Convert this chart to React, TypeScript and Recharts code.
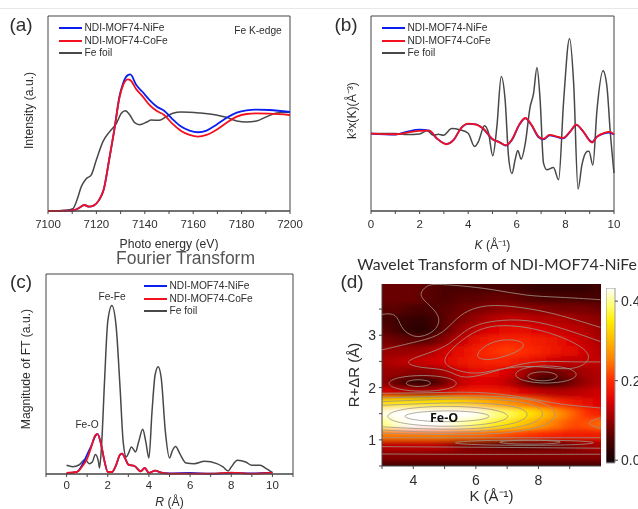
// App.tsx - four panel XAS figure (XANES, EXAFS, FT, wavelet map)
import React from "react";
import {
  LineChart,
  Line,
  ScatterChart,
  Scatter,
  XAxis,
  YAxis,
  Legend,
  ReferenceArea,
} from "recharts";

const SANS = "'Liberation Sans', Arial, sans-serif";
const INK = "#2e2e2e";
const AXIS = "#454545";
const BLUE = "#0b1ff0";
const RED = "#f2121f";
const GREY = "#484848";

// (a) XANES
const energyEdge = [7100, 7108, 7111, 7113, 7115, 7117, 7119, 7121, 7123, 7125.5, 7127.5, 7129.5, 7131, 7133, 7134, 7136.5, 7139, 7142, 7145, 7148, 7151.5, 7155, 7158.5, 7162, 7165.5, 7169.5, 7173.5, 7178, 7182, 7186, 7191.5, 7200];
const xanesNiFe = [0, 1, 3, 10, 18, 13, 17, 32, 64, 164, 249, 344, 384, 409, 411, 379, 359, 334, 314, 302, 276, 254, 242, 237, 242, 259, 279, 296, 303, 305, 304, 298];
const xanesCoFe = [0, 1, 3, 10, 18, 13, 17, 32, 64, 164, 249, 340, 378, 396, 394, 366, 346, 319, 301, 289, 262, 241, 229, 224, 229, 244, 264, 284, 292, 294, 293, 289];
const energyFoil = [7100, 7107.6, 7110.3, 7112, 7113.8, 7115.8, 7117.9, 7120, 7122.7, 7125.5, 7128.3, 7130.3, 7132, 7133.8, 7135.8, 7137.9, 7140.6, 7142.7, 7146, 7148.9, 7151.6, 7155, 7162.6, 7169.5, 7173.7, 7178, 7182, 7186.2, 7190.4, 7194.5, 7200];
const xanesFoil = [0, 2, 7, 34, 74, 97, 109, 154, 209, 239, 264, 294, 302, 289, 266, 260, 267, 274, 273, 284, 294, 298, 295, 289, 282, 271, 268, 271, 284, 295, 297];
const energyTicks = [7100, 7110, 7120, 7130, 7140, 7150, 7160, 7170, 7180, 7190, 7200];
const energyLabels = [7100, 7120, 7140, 7160, 7180, 7200];

// (b) EXAFS
const kSample = [0, 1, 1.5, 2, 2.4, 2.7, 3.1, 3.4, 3.7, 4, 4.3, 4.6, 5, 5.3, 5.55, 5.8, 6.1, 6.35, 6.6, 6.9, 7.1, 7.35, 7.6, 7.9, 8.2, 8.45, 8.7, 9.1, 9.3, 9.6, 9.8, 10];
const exafsNiFe = [0, -3, 6, 12, 9, -14, -31, -19, 16, 29, 28, 16, -17, -26, -36, -19, 26, 46, 26, -11, -17, -5, -9, -14, 6, 26, 9, -25, -9, 1, 3, -3];
const exafsCoFe = [0, -2, 3, 8, 9, -14, -32, -19, 16, 30, 28, 16, -16, -27, -35, -18, 27, 47, 27, -9, -16, -4, -8, -13, 7, 27, 10, -27, -10, 2, 5, -2];
const kFoil = [0, 0.5, 1, 1.5, 2, 2.3, 2.57, 2.77, 2.98, 3.32, 3.67, 4, 4.26, 4.42, 4.67, 4.84, 5.01, 5.18, 5.36, 5.52, 5.66, 5.8, 5.93, 6.04, 6.18, 6.35, 6.55, 6.69, 6.83, 6.96, 7.1, 7.24, 7.51, 7.72, 7.93, 8.17, 8.34, 8.52, 8.68, 8.89, 8.97, 9.13, 9.3, 9.55, 9.71, 9.85, 10];
const exafsFoil = [0, 0, 0, -3, -1, 9, -5, -2, -5, 15, 11, 1, -39, -24, 24, 1, -67, 21, 172, 101, -69, -120, -79, -51, -77, -29, 81, 121, 199, 101, -89, -109, -102, -139, 101, 286, 151, -167, -94, -54, -53, -95, 71, 189, 141, 1, -119];
const kTicks = [0, 1, 2, 3, 4, 5, 6, 7, 8, 9, 10];
const kLabels = [0, 2, 4, 6, 8, 10];

// (c) Fourier transform
const rSample = [0, 0.5, 0.8, 1, 1.2, 1.4, 1.5, 1.65, 1.85, 2, 2.2, 2.4, 2.6, 2.7, 2.85, 3, 3.3, 3.6, 3.8, 4, 4.3, 4.6, 5, 6, 7, 8, 9, 10];
const ftNiFe = [2, 6, 32, 58, 84, 114, 120, 96, 36, 6, 6, 26, 58, 61, 46, 28, 24, 8, 18, 3, 10, 4, 2, 3, 1, 3, 2, 4];
const ftCoFe = [3, 6, 26, 46, 81, 116, 119, 96, 36, 6, 6, 26, 58, 61, 46, 28, 24, 8, 18, 3, 10, 4, 1, 1, 1, 4, 1, 4];
const rFoil = [0, 0.3, 0.6, 0.9, 1.1, 1.25, 1.4, 1.55, 1.6, 1.7, 1.85, 2, 2.2, 2.4, 2.6, 2.75, 2.9, 3, 3.15, 3.35, 3.5, 3.7, 3.85, 4, 4.15, 4.3, 4.45, 4.6, 4.8, 5, 5.15, 5.3, 5.5, 5.8, 6.2, 6.7, 7.3, 7.6, 7.85, 8, 8.3, 8.7, 9, 9.4, 9.7, 10];
const ftFoil = [26, 22, 27, 43, 31, 36, 58, 36, 18, 86, 286, 456, 504, 446, 256, 96, 51, 61, 81, 66, 96, 134, 96, 48, 186, 296, 321, 286, 126, 48, 71, 82, 61, 33, 31, 38, 31, 21, 9, 21, 41, 36, 26, 26, 16, 4];
const rTicks = [-1, 0, 1, 2, 3, 4, 5, 6, 7, 8, 9, 10, 11];
const rLabels = [0, 2, 4, 6, 8, 10];

// (d) wavelet magnitude, top row first
const waveK = [3, 3.5, 4, 4.5, 5, 5.5, 6, 6.5, 7, 7.5, 8, 8.5, 9, 9.5, 10];
const waveR = [3.9, 3.7, 3.5, 3.3, 3.1, 2.9, 2.7, 2.5, 2.3, 2.1, 1.9, 1.7, 1.5, 1.3, 1.1, 0.9, 0.7, 0.5];
const waveMagnitude = [
  [0.07, 0.07, 0.07, 0.06, 0.05, 0.05, 0.05, 0.05, 0.05, 0.04, 0.03, 0.03, 0.03, 0.03, 0.04],
  [0.07, 0.07, 0.07, 0.06, 0.05, 0.06, 0.06, 0.07, 0.07, 0.06, 0.05, 0.05, 0.05, 0.05, 0.05],
  [0.06, 0.06, 0.05, 0.05, 0.06, 0.07, 0.08, 0.09, 0.1, 0.09, 0.09, 0.08, 0.08, 0.08, 0.07],
  [0.05, 0.04, 0.03, 0.03, 0.06, 0.08, 0.1, 0.12, 0.13, 0.13, 0.12, 0.12, 0.11, 0.1, 0.09],
  [0.06, 0.04, 0.02, 0.02, 0.06, 0.1, 0.13, 0.15, 0.16, 0.16, 0.15, 0.14, 0.13, 0.12, 0.1],
  [0.08, 0.07, 0.06, 0.06, 0.09, 0.13, 0.16, 0.18, 0.19, 0.19, 0.18, 0.17, 0.15, 0.13, 0.11],
  [0.1, 0.1, 0.1, 0.11, 0.14, 0.16, 0.18, 0.2, 0.21, 0.2, 0.19, 0.17, 0.16, 0.14, 0.12],
  [0.11, 0.12, 0.13, 0.14, 0.15, 0.17, 0.18, 0.19, 0.19, 0.17, 0.16, 0.14, 0.13, 0.13, 0.13],
  [0.1, 0.1, 0.09, 0.09, 0.11, 0.14, 0.16, 0.16, 0.15, 0.11, 0.07, 0.07, 0.09, 0.11, 0.12],
  [0.1, 0.06, 0.03, 0.03, 0.07, 0.13, 0.15, 0.15, 0.13, 0.08, 0.03, 0.03, 0.07, 0.1, 0.12],
  [0.15, 0.13, 0.12, 0.12, 0.14, 0.17, 0.18, 0.18, 0.17, 0.15, 0.13, 0.12, 0.12, 0.13, 0.14],
  [0.33, 0.34, 0.34, 0.34, 0.34, 0.33, 0.31, 0.29, 0.27, 0.25, 0.23, 0.2, 0.18, 0.16, 0.15],
  [0.42, 0.45, 0.47, 0.47, 0.46, 0.45, 0.43, 0.4, 0.38, 0.35, 0.32, 0.28, 0.24, 0.2, 0.18],
  [0.39, 0.42, 0.44, 0.44, 0.43, 0.41, 0.39, 0.36, 0.34, 0.31, 0.28, 0.25, 0.22, 0.22, 0.24],
  [0.25, 0.25, 0.25, 0.25, 0.25, 0.24, 0.24, 0.23, 0.22, 0.21, 0.2, 0.19, 0.18, 0.18, 0.18],
  [0.13, 0.13, 0.13, 0.13, 0.12, 0.09, 0.08, 0.07, 0.06, 0.06, 0.06, 0.07, 0.08, 0.1, 0.12],
  [0.09, 0.09, 0.09, 0.09, 0.09, 0.09, 0.09, 0.09, 0.09, 0.09, 0.09, 0.09, 0.09, 0.09, 0.09],
  [0.05, 0.05, 0.05, 0.05, 0.05, 0.05, 0.05, 0.05, 0.05, 0.05, 0.05, 0.05, 0.05, 0.05, 0.05],
];
const waveKTicks = [3, 4, 5, 6, 7, 8, 9];
const waveRTicks = [0.5, 1, 1.5, 2, 2.5, 3, 3.5];
const barTicks = [0, 0.2, 0.4];

// contour lines, [k, R]
const openContours: number[][][] = [
  [[3, 3.4], [3.47, 3.43], [3.6, 3.14], [3.89, 3.0], [4.21, 2.95], [4.74, 3.08], [4.9, 3.36], [4.43, 3.62], [4.16, 3.78], [4.43, 3.96], [4.69, 3.98], [5.49, 3.95], [6.55, 3.88], [7.62, 3.75], [8.68, 3.73], [9.98, 3.68]],
  [[3, 2.72], [4.21, 2.89], [4.96, 3.01], [5.49, 3.43], [6.34, 3.6], [7.4, 3.54], [8.47, 3.43], [9.98, 3.15]],
  [[9.98, 2.88], [8.47, 3.2], [7.4, 3.32], [6.23, 3.26], [5.6, 3.08], [5.17, 2.82], [4.53, 2.66], [3.6, 2.49], [4.21, 2.37], [5.06, 2.36], [5.49, 2.18], [6.02, 2.21], [6.77, 2.34], [7.83, 2.52], [8.89, 2.49], [9.98, 2.49]],
  [[3, 1.66], [4.5, 1.7], [6.2, 1.72], [7.7, 1.62], [7.7, 1.35], [6.2, 1.2], [4.5, 1.2], [3, 1.25]],
  [[3, 1.73], [4.5, 1.77], [6.5, 1.8], [8.2, 1.68], [8.2, 1.32], [6.5, 1.15], [4.5, 1.14], [3, 1.19]],
  [[3, 1.8], [4.5, 1.83], [6.8, 1.86], [8.6, 1.7], [8.6, 1.28], [6.8, 1.09], [4.5, 1.1], [3, 1.13]],
  [[3, 1.89], [4.7, 1.9], [6.34, 1.93], [8, 1.76], [8.79, 1.67], [9.98, 1.61]],
  [[9.98, 1.42], [9.45, 1.32], [9.98, 1.22]],
  [[3, 0.87], [6, 0.86], [9.98, 0.84]],
  [[3, 0.73], [6, 0.72], [9.98, 0.725]],
  [[3, 1.04], [6, 1.04], [9.98, 1.04]],
];
const closedContours: number[][][] = [
  [[4.85, 2.53], [5.55, 2.92], [6.2, 3.16], [7.09, 3.21], [8.3, 3.08], [9.4, 2.8], [9.75, 2.55], [9.15, 2.3], [7.83, 2.44], [6.66, 2.35], [6, 2.24], [5.2, 2.35]],
  [[6, 2.63], [6.3, 2.82], [6.85, 2.93], [7.45, 2.9], [7.6, 2.78], [7.1, 2.62], [6.45, 2.52], [6.1, 2.55]],
  [[5.49, 2.08], [5.14, 2.2], [4.3, 2.245], [3.46, 2.2], [3.11, 2.08], [3.46, 1.96], [4.3, 1.915], [5.14, 1.96]],
  [[4.59, 2.085], [4.46, 2.135], [4.16, 2.157], [3.86, 2.135], [3.73, 2.085], [3.86, 2.035], [4.16, 2.013], [4.46, 2.035]],
  [[9.31, 2.25], [9, 2.38], [8.24, 2.43], [7.48, 2.38], [7.17, 2.25], [7.48, 2.12], [8.24, 2.07], [9, 2.12]],
  [[8.65, 2.215], [8.5, 2.28], [8.13, 2.31], [7.76, 2.28], [7.61, 2.215], [7.76, 2.15], [8.13, 2.12], [8.5, 2.15]],
  [[6.57, 1.45], [6.13, 1.53], [5.08, 1.565], [4.03, 1.53], [3.59, 1.45], [4.03, 1.37], [5.08, 1.335], [6.13, 1.37]],
  [[7.23, 1.45], [6.6, 1.6], [5.08, 1.66], [3.56, 1.6], [3, 1.45], [3.56, 1.3], [5.08, 1.24], [6.6, 1.3]],
  [[9.95, 0.945], [9.37, 0.985], [7.6, 1], [5.83, 0.985], [5.1, 0.945], [5.83, 0.905], [7.6, 0.89], [9.37, 0.905]],
  [[8.8, 0.955], [8.49, 0.985], [7.73, 0.995], [6.97, 0.985], [6.66, 0.955], [6.97, 0.925], [7.73, 0.915], [8.49, 0.925]],
];

// colour map of the wavelet panel
const colorStops: [number, string][] = [
  [-0.007, "#1c1c3a"],
  [0, "#160000"],
  [0.05, "#4a0000"],
  [0.1, "#980000"],
  [0.15, "#de0404"],
  [0.2, "#ff2a00"],
  [0.25, "#ff7c00"],
  [0.3, "#ffb800"],
  [0.35, "#ffee00"],
  [0.39, "#ffff70"],
  [0.433, "#ffffff"],
];

const keyOrder = ["NDI-MOF74-NiFe", "NDI-MOF74-CoFe", "Fe foil"];

const hex = (c: string) => [1, 3, 5].map((i) => parseInt(c.slice(i, i + 2), 16));

function heatColor(v: number) {
  for (let i = 1; i < colorStops.length; i++) {
    const [v1, c1] = colorStops[i];
    if (v <= v1) {
      const [v0, c0] = colorStops[i - 1];
      const t = (v - v0) / (v1 - v0);
      const a = hex(c0);
      const b = hex(c1);
      return `rgb(${a.map((x, j) => Math.round(x + (b[j] - x) * t)).join(",")})`;
    }
  }
  return "#ffffff";
}

const zip = (xs: number[], ys: number[]) => xs.map((x, i) => ({ x, y: ys[i] }));

const heatCells = waveR.flatMap((r, i) => waveK.map((k, j) => ({ k, r, v: waveMagnitude[i][j] })));

// one map cell, edge cells run on past the plot so the blur does not fade there
const HeatCell = (props: any) => {
  const { cx, cy, payload } = props;
  const w = 15.7;
  const h = 10.6;
  const left = payload.k === 3 ? 28 : 0;
  const right = payload.k === 10 ? 28 : 0;
  const top = payload.r === 3.9 ? 28 : 0;
  const bottom = payload.r === 0.5 ? 28 : 0;
  return (
    <rect
      x={cx - w / 2 - left}
      y={cy - h / 2 - top}
      width={w + left + right + 0.5}
      height={h + top + bottom + 0.5}
      fill={heatColor(payload.v)}
    />
  );
};

const Note = ({ x, y, size = 10.2, children, style }: any) => (
  <div
    style={{
      position: "absolute",
      left: x,
      top: y,
      transform: "translate(-50%,-50%)",
      whiteSpace: "nowrap",
      fontFamily: SANS,
      fontSize: size,
      color: INK,
      ...style,
    }}
  >
    {children}
  </div>
);

const KeyBox = (props: any) => {
  const items = keyOrder.map((name) => (props.payload || []).find((p: any) => p.value === name)).filter(Boolean);
  return (
    <div style={{ position: "relative", fontFamily: SANS, fontSize: 10.2, color: INK }}>
      {items.map((item: any, i: number) => (
        <div key={item.value} style={{ position: "absolute", left: 0, top: Math.round(i * 12.7), height: 12, width: 120, whiteSpace: "nowrap" }}>
          <div style={{ position: "absolute", left: 0, top: 5, width: 23, height: i === 2 ? 1.5 : 2, background: item.color }} />
          <span style={{ position: "absolute", left: 25.5, top: 0, lineHeight: "12px" }}>{item.value}</span>
        </div>
      ))}
    </div>
  );
};

// axis title with an italic letter
const axisTitle = (italic: string, rest: string, size: number, yShift: number) => (props: any) => {
  const { viewBox } = props;
  return (
    <text
      x={viewBox.x + viewBox.width / 2}
      y={viewBox.y + yShift}
      textAnchor="middle"
      fontFamily={SANS}
      fontSize={size}
      fill={INK}
    >
      <tspan fontStyle="italic">{italic}</tspan>
      {rest}
    </text>
  );
};

const tickText = { fontFamily: SANS, fontSize: 11.5, fill: INK };

function SpectrumPanel({ left, top, height, plotLeft, plotRight, plotTop, plotBottom, xDomain, yDomain, ticks, tickLabels, tickGap, series, xLabel, yLabel, yDx, yDy, keyX, keyY }: any) {
  const boxW = plotRight + 30 - left;
  return (
    <div style={{ position: "absolute", left, top }}>
      <LineChart
        width={boxW}
        height={height}
        margin={{ top: plotTop - top, right: boxW - (plotRight - left), bottom: 0, left: 0 }}
      >
        <XAxis
          dataKey="x"
          type="number"
          domain={xDomain}
          ticks={ticks}
          interval={0}
          height={height - (plotBottom - top)}
          tickSize={3}
          tickMargin={tickGap}
          stroke={AXIS}
          tick={tickText}
          tickFormatter={(v: number) => (tickLabels.includes(v) ? String(v) : "")}
          label={xLabel}
          allowDuplicatedCategory={false}
        />
        <YAxis
          type="number"
          dataKey="y"
          domain={yDomain}
          width={plotLeft - left}
          tick={false}
          axisLine={false}
          tickLine={false}
          label={{ value: yLabel, angle: -90, position: "center", dx: yDx, dy: yDy, style: { fontFamily: SANS, fontSize: 12.2, fill: INK } }}
        />
        <ReferenceArea x1={xDomain[0]} x2={xDomain[1]} y1={yDomain[0]} y2={yDomain[1]} fill="none" stroke={AXIS} strokeWidth={1} ifOverflow="visible" />
        {series.map((s: any) => (
          <Line key={s.name} name={s.name} data={s.data} dataKey="y" type="monotone" stroke={s.color} strokeWidth={s.width} dot={false} isAnimationActive={false} />
        ))}
        <Legend
          layout="vertical"
          align="center"
          verticalAlign="middle"
          content={KeyBox}
          wrapperStyle={{ left: keyX - left, top: keyY - top, width: 130, height: 40, margin: 0 }}
        />
      </LineChart>
    </div>
  );
}

// foil first so the two samples lie on top of it
const seriesOf = (x1: number[], a: number[], b: number[], x2: number[], c: number[]) => [
  { name: "Fe foil", data: zip(x2, c), color: GREY, width: 1.5 },
  { name: "NDI-MOF74-NiFe", data: zip(x1, a), color: BLUE, width: 1.8 },
  { name: "NDI-MOF74-CoFe", data: zip(x1, b), color: RED, width: 1.8 },
];

const contourLine = { stroke: "#a0968a", strokeWidth: 0.8 };

export default function App() {
  return (
    <div style={{ position: "fixed", left: 0, top: 0, width: 638, height: 509, overflow: "hidden", background: "#fff", filter: "blur(0.35px)" }}>
      <svg width="0" height="0" style={{ position: "absolute" }}>
        <filter id="mapBlur" x="-20%" y="-20%" width="140%" height="140%">
          <feGaussianBlur stdDeviation="7 2.6" />
        </filter>
      </svg>
      <div style={{ position: "absolute", left: 0, top: 8, width: 638, height: 1, background: "#e8e8e8" }} />

      <SpectrumPanel
        left={0} top={0} height={254}
        plotLeft={48} plotRight={290} plotTop={16} plotBottom={211}
        xDomain={[7100, 7200]} yDomain={[0, 587]} ticks={energyTicks} tickLabels={energyLabels} tickGap={6}
        series={seriesOf(energyEdge, xanesNiFe, xanesCoFe, energyFoil, xanesFoil)}
        xLabel={{ value: "Photo energy (eV)", content: axisTitle("", "Photo energy (eV)", 12.2, 37) }}
        yLabel="Intensity (a.u.)" yDx={5} yDy={-3}
        keyX={59} keyY={22}
      />
      <SpectrumPanel
        left={330} top={0} height={254}
        plotLeft={371} plotRight={614} plotTop={16} plotBottom={211}
        xDomain={[0, 10]} yDomain={[-233, 354]} ticks={kTicks} tickLabels={kLabels} tickGap={6}
        series={seriesOf(kSample, exafsNiFe, exafsCoFe, kFoil, exafsFoil)}
        xLabel={{ value: "K (Å⁻¹)", content: axisTitle("K", " (Å⁻¹)", 12.2, 38) }}
        yLabel="k³x(K)(Å⁻³)" yDx={1} yDy={-3}
        keyX={382} keyY={22}
      />
      <SpectrumPanel
        left={0} top={245} height={264}
        plotLeft={46} plotRight={293} plotTop={274} plotBottom={474}
        xDomain={[-1, 11]} yDomain={[0, 598]} ticks={rTicks} tickLabels={rLabels} tickGap={4}
        series={seriesOf(rSample, ftNiFe, ftCoFe, rFoil, ftFoil)}
        xLabel={{ value: "R (Å)", content: axisTitle("R", " (Å)", 12.2, 32) }}
        yLabel="Magnitude of FT (a.u.)" yDx={3} yDy={-5}
        keyX={144} keyY={280}
      />

      {/* (d) map: blurred cells, clipped to the plot */}
      <div style={{ position: "absolute", left: 382, top: 284, width: 219, height: 182, overflow: "hidden", background: "#8a0000" }}>
        <div style={{ position: "absolute", left: -30, top: -30, filter: "url(#mapBlur)" }}>
          <ScatterChart width={279} height={242} margin={{ top: 30, right: 30, bottom: 30, left: 30 }}>
            <XAxis dataKey="k" type="number" domain={[3, 10]} hide />
            <YAxis dataKey="r" type="number" domain={[0.5, 3.98]} hide />
            <Scatter data={heatCells} shape={HeatCell} isAnimationActive={false} />
          </ScatterChart>
        </div>
      </div>
      <div style={{ position: "absolute", left: 340, top: 284 }}>
        <ScatterChart width={270} height={225} margin={{ top: 0, right: 9, bottom: 0, left: 0 }}>
          <XAxis
            dataKey="k" type="number" domain={[3, 10]} ticks={waveKTicks} interval={0}
            height={43} tickSize={3} tickMargin={6} stroke={AXIS}
            tick={{ fontFamily: SANS, fontSize: 14, fill: INK }}
            tickFormatter={(v: number) => (v % 2 === 0 ? String(v) : "")}
            label={{ value: "K (Å⁻¹)", content: axisTitle("", "K (Å⁻¹)", 15, 35) }}
          />
          <YAxis
            dataKey="r" type="number" domain={[0.5, 3.98]} ticks={waveRTicks} interval={0}
            width={42} tickSize={3} tickMargin={3} stroke={AXIS}
            tick={{ fontFamily: SANS, fontSize: 14, fill: INK }}
            tickFormatter={(v: number) => (v % 1 === 0 ? String(v) : "")}
            label={{ value: "R+ΔR (Å)", angle: -90, position: "center", dx: -7, style: { fontFamily: SANS, fontSize: 15, fill: INK } }}
          />
          {openContours.map((c, i) => (
            <Scatter key={"open" + i} data={c.map(([k, r]) => ({ k, r }))} line={contourLine} lineJointType="basis" shape={() => <g />} isAnimationActive={false} />
          ))}
          {closedContours.map((c, i) => (
            <Scatter key={"closed" + i} data={c.map(([k, r]) => ({ k, r }))} line={contourLine} lineJointType="basisClosed" shape={() => <g />} isAnimationActive={false} />
          ))}
        </ScatterChart>
      </div>

      {/* colour bar, stops run from the top of the bar down */}
      <div style={{ position: "absolute", left: 606, top: 288 }}>
        <LineChart width={50} height={190} margin={{ top: 0, right: 0, bottom: 15, left: 0 }}>
          <defs>
            <linearGradient id="heatBar" x1="0" y1="0" x2="0" y2="1">
              {[...colorStops].reverse().map(([v, c]) => (
                <stop key={v} offset={(0.433 - v) / 0.44} stopColor={c} />
              ))}
            </linearGradient>
          </defs>
          <XAxis dataKey="x" type="number" domain={[0, 1]} hide />
          <YAxis
            dataKey="y" orientation="right" type="number" domain={[-0.007, 0.433]} ticks={barTicks} interval={0}
            width={41} tickSize={3} tickMargin={3} axisLine={false} stroke={AXIS}
            tick={{ fontFamily: SANS, fontSize: 14, fill: INK, textAnchor: "start" }}
            tickFormatter={(v: number) => v.toFixed(1)}
          />
          <Line data={barTicks.map((y) => ({ x: 0.5, y }))} dataKey="y" stroke="none" dot={false} legendType="none" isAnimationActive={false} />
          <ReferenceArea x1={0} x2={1} y1={-0.007} y2={0.433} fill="url(#heatBar)" fillOpacity={1} stroke="#9a9a9a" strokeWidth={1} ifOverflow="visible" />
        </LineChart>
      </div>

      <Note x={21} y={25} size={19}>(a)</Note>
      <Note x={346} y={25} size={19}>(b)</Note>
      <Note x={21} y={282} size={19}>(c)</Note>
      <Note x={352} y={282} size={19}>(d)</Note>
      <Note x={258} y={30}>Fe K-edge</Note>
      <Note x={112} y={296}>Fe-Fe</Note>
      <Note x={87} y={424}>Fe-O</Note>
      <Note x={444} y={417} size={12.5} style={{ fontWeight: 700, color: "#111", fontFamily: "'Open Sans', sans-serif" }}>Fe-O</Note>
      <Note x={185.5} y={258} size={17.5} style={{ color: "#555" }}>Fourier Transform</Note>
      <Note x={497} y={263} size={15.8} style={{ fontFamily: "Lato, sans-serif" }}>Wavelet Transform of NDI-MOF74-NiFe</Note>
    </div>
  );
}
